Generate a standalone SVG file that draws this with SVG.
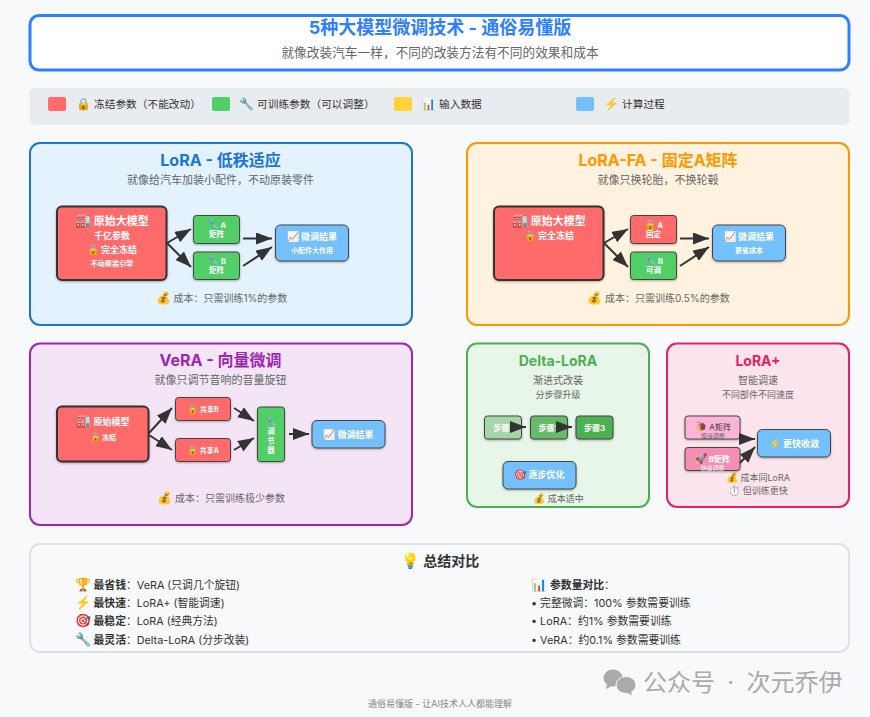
<svg xmlns="http://www.w3.org/2000/svg" width="870" height="717" viewBox="0 0 870 717">
<style>
text{font-family:"Inter","Noto Sans CJK SC","Noto Sans",sans-serif;text-anchor:middle}
.l{text-anchor:start}
.b{font-weight:700}
.w{fill:#fff}
.g{fill:#666}
.d{fill:#333}
.e9{font-size:9px}.e10{font-size:10px}.e12{font-size:12px}.e13{font-size:13px}.e15{font-size:15px}
.panel{stroke-width:2}
.n{stroke:#444;stroke-width:1;filter:drop-shadow(0.5px 1px 1px rgba(0,0,0,.3))}
.main{fill:#ff6b6b;stroke:#333;stroke-width:2;filter:drop-shadow(0.5px 1px 1px rgba(0,0,0,.3))}
.red{fill:#ff6b6b}.grn{fill:#51cf66}.blu{fill:#74c0fc}
.ln{stroke:#333;stroke-width:2;fill:none;marker-end:url(#a)}
</style>
<defs>
<marker id="a" markerUnits="userSpaceOnUse" markerWidth="18" markerHeight="14" refX="16" refY="6" orient="auto"><path d="M0 0L16 6L0 12Z" fill="#333"/></marker>
</defs>
<rect width="870" height="717" fill="#f8f9fa"/>
<g id="header">
<rect x="30" y="15.500" width="819" height="54.500" rx="9" fill="#fff" stroke="#2f80ff" stroke-width="3"/>
<text x="440" y="34" font-size="18" class="b" fill="#2f80ff">5种大模型微调技术 - 通俗易懂版</text>
<text x="440" y="57" font-size="12.700" class="g">就像改装汽车一样，不同的改装方法有不同的效果和成本</text>
</g>
<g id="legend">
<rect x="29.500" y="88" width="820" height="37" rx="5" fill="#e9ecef"/>
<rect x="48" y="97" width="18" height="14" rx="2" fill="#ff6b6b"/>
<text x="76" y="108" font-size="10.700" class="l d"><tspan class="e12">🔒</tspan> 冻结参数（不能改动）</text>
<rect x="212" y="97" width="18" height="14" rx="2" fill="#51cf66"/>
<text x="239" y="108" font-size="10.700" class="l d"><tspan class="e12">🔧</tspan> 可训练参数（可以调整）</text>
<rect x="394" y="97" width="18" height="14" rx="2" fill="#ffd43b"/>
<text x="421" y="108" font-size="10.700" class="l d"><tspan class="e12">📊</tspan> 输入数据</text>
<rect x="576" y="97" width="18" height="14" rx="2" fill="#74c0fc"/>
<text x="604" y="108" font-size="10.700" class="l d"><tspan class="e12">⚡</tspan> 计算过程</text>
</g>
<g id="lora-panel">
<rect class="panel" x="30" y="143" width="382" height="182" rx="10" fill="#e3f2fd" stroke="#1976d2"/>
<text x="220.500" y="166" font-size="16" class="b" fill="#1976d2">LoRA - 低秩适应</text>
<text x="220.500" y="184" font-size="11" class="g">就像给汽车加装小配件，不动原装零件</text>
<text x="221.500" y="302" font-size="10" class="g"><tspan class="e12">💰</tspan> 成本：只需训练1%的参数</text>
</g>
<g id="lora-main">
<rect class="main" x="57" y="206.500" width="109.500" height="73.500" rx="5"/>
<text x="112" y="225" font-size="11" class="b w"><tspan class="e13">🏭</tspan> 原始大模型</text>
<text x="112" y="239" font-size="9" class="b w">千亿参数</text>
<text x="112" y="252.500" font-size="9" class="b w"><tspan class="e10">🔒</tspan> 完全冻结</text>
<text x="112" y="266" font-size="7.200" class="b w">不动原装引擎</text>
</g>
<g id="lora-a">
<rect class="n grn" x="193.500" y="215.500" width="46" height="28" rx="3"/>
<text x="216.500" y="228" font-size="7.500" class="b w"><tspan class="e10">🔧</tspan> A</text>
<text x="216.500" y="237" font-size="7.500" class="b w">矩阵</text>
</g>
<g id="lora-b">
<rect class="n grn" x="193.500" y="252" width="46" height="27.500" rx="3"/>
<text x="216.500" y="264" font-size="7.500" class="b w"><tspan class="e10">🔧</tspan> B</text>
<text x="216.500" y="273" font-size="7.500" class="b w">矩阵</text>
</g>
<g id="lora-result">
<rect class="n blu" x="275.500" y="225" width="73" height="36" rx="5"/>
<text x="312" y="240" font-size="9" class="b w"><tspan class="e10">📈</tspan> 微调结果</text>
<text x="312" y="252.500" font-size="7" class="b w">小配件大作用</text>
</g>
<g id="fa-panel">
<rect class="panel" x="467" y="143" width="382" height="182" rx="10" fill="#fff3e0" stroke="#ff9800"/>
<text x="658" y="166" font-size="16" class="b" fill="#ff9800">LoRA-FA - 固定A矩阵</text>
<text x="658" y="184" font-size="11" class="g">就像只换轮胎，不换轮毂</text>
<text x="658.500" y="302" font-size="10" class="g"><tspan class="e12">💰</tspan> 成本：只需训练0.5%的参数</text>
</g>
<g id="fa-main">
<rect class="main" x="494" y="206.500" width="109.500" height="73.500" rx="5"/>
<text x="549" y="225" font-size="11" class="b w"><tspan class="e13">🏭</tspan> 原始大模型</text>
<text x="549" y="239" font-size="9" class="b w"><tspan class="e10">🔒</tspan> 完全冻结</text>
</g>
<g id="fa-a">
<rect class="n red" x="630.500" y="215.500" width="46" height="28" rx="3"/>
<text x="653.500" y="228" font-size="7.500" class="b w"><tspan class="e10">🔒</tspan> A</text>
<text x="653.500" y="237" font-size="7.500" class="b w">固定</text>
</g>
<g id="fa-b">
<rect class="n grn" x="630.500" y="252" width="46" height="27.500" rx="3"/>
<text x="653.500" y="264" font-size="7.500" class="b w"><tspan class="e10">🔧</tspan> B</text>
<text x="653.500" y="273" font-size="7.500" class="b w">可调</text>
</g>
<g id="fa-result">
<rect class="n blu" x="712.500" y="225" width="73" height="36" rx="5"/>
<text x="749" y="240" font-size="9" class="b w"><tspan class="e10">📈</tspan> 微调结果</text>
<text x="749" y="252.500" font-size="7" class="b w">更省成本</text>
</g>
<g id="vera-panel">
<rect class="panel" x="30" y="343.500" width="382" height="181.500" rx="10" fill="#f3e5f5" stroke="#9c27b0"/>
<text x="220.500" y="366" font-size="16" class="b" fill="#9c27b0">VeRA - 向量微调</text>
<text x="220.500" y="384" font-size="11" class="g">就像只调节音响的音量旋钮</text>
<text x="221" y="502" font-size="10" class="g"><tspan class="e12">💰</tspan> 成本：只需训练极少参数</text>
</g>
<g id="vera-main">
<rect class="main" x="57" y="406.500" width="91.500" height="55" rx="5"/>
<text x="103" y="425" font-size="9" class="b w"><tspan class="e12">🏭</tspan> 原始模型</text>
<text x="103" y="439.500" font-size="7" class="b w"><tspan class="e9">🔒</tspan> 冻结</text>
</g>
<g id="vera-b">
<rect class="n red" x="175.500" y="397.500" width="55" height="23" rx="3"/>
<text x="203" y="411.500" font-size="7" class="b w"><tspan class="e9">🔒</tspan> 共享B</text>
</g>
<g id="vera-a">
<rect class="n red" x="175.500" y="438.500" width="55" height="23" rx="3"/>
<text x="203" y="452.500" font-size="7" class="b w"><tspan class="e9">🔒</tspan> 共享A</text>
</g>
<g id="vera-tuner">
<rect class="n grn" x="257.500" y="407" width="27" height="54.500" rx="3"/>
<text x="271" y="426" font-size="10">🔧</text>
<text x="271" y="434" font-size="7.500" class="b w">调</text>
<text x="271" y="444" font-size="7.500" class="b w">节</text>
<text x="271" y="453" font-size="7.500" class="b w">器</text>
</g>
<g id="vera-result">
<rect class="n blu" x="312" y="420.500" width="73" height="27.500" rx="5"/>
<text x="348.500" y="437.500" font-size="9" class="b w"><tspan class="e10">📈</tspan> 微调结果</text>
</g>
<g id="delta-panel">
<rect class="panel" x="467" y="343.500" width="182" height="163.500" rx="10" fill="#e8f5e9" stroke="#4caf50"/>
<text x="558" y="366" font-size="14" class="b" fill="#4caf50">Delta-LoRA</text>
<text x="558" y="384" font-size="10" class="g">渐进式改装</text>
<text x="558" y="398" font-size="9" class="g">分步骤升级</text>
<text x="558.500" y="502" font-size="9" class="g"><tspan class="e10">💰</tspan> 成本适中</text>
</g>
<g id="delta-1">
<rect class="n" fill="#a5d6a7" x="484.500" y="416" width="37" height="23" rx="3"/>
<text x="503" y="430.500" font-size="8" class="b w">步骤1</text>
</g>
<g id="delta-2">
<rect class="n" fill="#66bb6a" x="530.500" y="416" width="37" height="23" rx="3"/>
<text x="549" y="430.500" font-size="8" class="b w">步骤2</text>
</g>
<g id="delta-3">
<rect class="n" fill="#4caf50" x="576" y="416" width="37" height="23" rx="3"/>
<text x="594.500" y="430.500" font-size="8" class="b w">步骤3</text>
</g>
<g id="delta-result">
<rect class="n blu" x="503" y="461.500" width="73" height="27.500" rx="5"/>
<text x="539.500" y="478" font-size="9" class="b w"><tspan class="e10">🎯</tspan> 逐步优化</text>
</g>
<g id="plus-panel">
<rect class="panel" x="667" y="343.500" width="182" height="163.500" rx="10" fill="#fce4ec" stroke="#e91e63"/>
<text x="758" y="366" font-size="14" class="b" fill="#e91e63">LoRA+</text>
<text x="758" y="384" font-size="10" class="g">智能调速</text>
<text x="758" y="398" font-size="9" class="g">不同部件不同速度</text>
<text x="758" y="480.500" font-size="9" class="g"><tspan class="e10">💰</tspan> 成本同LoRA</text>
<text x="758" y="493.500" font-size="9" class="g"><tspan class="e10">⏱️</tspan> 但训练更快</text>
</g>
<g id="plus-a">
<rect class="n" fill="#ffb3d9" x="685" y="416" width="55" height="23" rx="3"/>
<text x="713" y="430" font-size="8" class="d"><tspan class="e10">🐌</tspan> A矩阵</text>
<text x="713" y="437.500" font-size="6" class="g">慢速调整</text>
</g>
<g id="plus-b">
<rect class="n" fill="#f48fb1" x="685" y="447.500" width="55" height="23" rx="3"/>
<text x="712.500" y="462" font-size="8" class="b w"><tspan class="e10">🚀</tspan> B矩阵</text>
<text x="712.500" y="469.500" font-size="6" class="w">快速调整</text>
</g>
<g id="plus-result">
<rect class="n blu" x="757.500" y="429.500" width="73" height="27.500" rx="5"/>
<text x="794" y="446.500" font-size="9" class="b w"><tspan class="e10">⚡</tspan> 更快收敛</text>
</g>
<g id="connectors">
<path class="ln" d="M167 243L191 229"/>
<path class="ln" d="M167 243L191 267"/>
<path class="ln" d="M243 238.500H272"/>
<path class="ln" d="M243 266L272 247"/>
<path class="ln" d="M604 243L628 229"/>
<path class="ln" d="M604 243L628 267"/>
<path class="ln" d="M680 238.500H709"/>
<path class="ln" d="M680 266L709 247"/>
<path class="ln" d="M149 433L172 408"/>
<path class="ln" d="M149 435L172 450"/>
<path class="ln" d="M234 408L254 421"/>
<path class="ln" d="M234 450L254 438"/>
<path class="ln" d="M289 434H309"/>
<path class="ln" d="M510 427H526"/>
<path class="ln" d="M556 427H572"/>
<path class="ln" d="M739 439H755"/>
<path class="ln" d="M740 463L755 447"/>
</g>
<g id="summary">
<rect x="30" y="544" width="819" height="108" rx="10" fill="#f8f9fa" stroke="#dee2e6" stroke-width="2"/>
<text x="440" y="566" font-size="14" class="b d"><tspan class="e15">💡</tspan> 总结对比</text>
<text x="74.500" y="589" font-size="10.800" class="l d"><tspan class="e13">🏆</tspan> <tspan class="b">最省钱</tspan>：VeRA (只调几个旋钮)</text>
<text x="74.500" y="607" font-size="10.800" class="l d"><tspan class="e13">⚡</tspan> <tspan class="b">最快速</tspan>：LoRA+ (智能调速)</text>
<text x="74.500" y="625" font-size="10.800" class="l d"><tspan class="e13">🎯</tspan> <tspan class="b">最稳定</tspan>：LoRA (经典方法)</text>
<text x="74.500" y="644" font-size="10.800" class="l d"><tspan class="e13">🔧</tspan> <tspan class="b">最灵活</tspan>：Delta-LoRA (分步改装)</text>
<text x="531" y="589" font-size="10.800" class="l d"><tspan class="e13">📊</tspan> <tspan class="b">参数量对比</tspan>：</text>
<text x="531" y="607" font-size="10.800" class="l d">• 完整微调：100% 参数需要训练</text>
<text x="531" y="625" font-size="10.800" class="l d">• LoRA：约1% 参数需要训练</text>
<text x="531" y="644" font-size="10.800" class="l d">• VeRA：约0.1% 参数需要训练</text>
</g>
<g id="footer">
<text x="440" y="707" font-size="9" fill="#888">通俗易懂版 - 让AI技术人人都能理解</text>
</g>
<g id="watermark">
<ellipse cx="613" cy="678" rx="9.500" ry="8.500" fill="#aaa"/>
<path d="M607 684L606 689L612 686Z" fill="#aaa"/>
<ellipse cx="626" cy="685" rx="10" ry="8.500" fill="#aaa" stroke="#f8f9fa"/>
<path d="M631 691L632 695L627 693Z" fill="#aaa"/>
<text x="643" y="691" font-size="24" class="l" fill="#aaa" word-spacing="5.500">公众号 · 次元乔伊</text>
</g>
</svg>
